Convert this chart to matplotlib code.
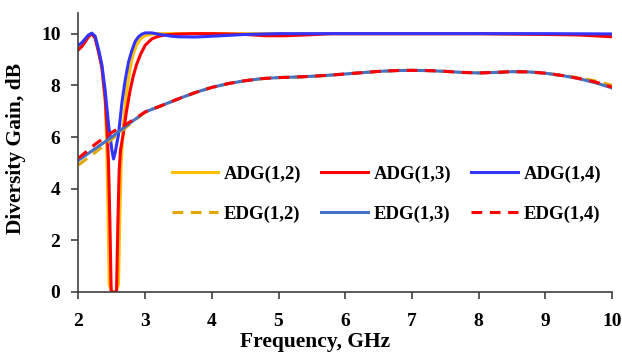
import matplotlib
matplotlib.use("Agg")
import matplotlib.pyplot as plt

# ---- data -------------------------------------------------------------
# Apparent diversity gain (ADG), one frequency grid per series (GHz)
adg12_freq = [2.0, 2.1, 2.2, 2.25, 2.3, 2.35, 2.4, 2.42, 2.44, 2.46, 2.5, 2.56,
              2.6, 2.62, 2.64, 2.67, 2.72, 2.77, 2.82, 2.87, 2.93, 3.0, 3.1,
              3.2, 3.4, 4.0, 5.0, 6.0, 7.0, 8.0, 9.0, 10.0]
adg12_vals = [9.5, 9.75, 10.0, 9.85, 9.3, 8.7, 7.4, 6.0, 3.5, 0.3, 0.0, 0.0,
              0.3, 3.0, 5.0, 6.4, 7.76, 8.6, 9.2, 9.55, 9.8, 9.92, 9.98,
              10.0, 10.0, 10.0, 10.0, 10.0, 10.0, 10.0, 9.98, 9.95]

adg13_freq = [2.0, 2.05, 2.1, 2.15, 2.2, 2.25, 2.3, 2.35, 2.4, 2.43, 2.45, 2.47,
              2.49, 2.57, 2.59, 2.61, 2.63, 2.67, 2.72, 2.77, 2.82, 2.87, 2.93,
              3.0, 3.1, 3.2, 3.3, 3.45, 3.7, 4.0, 4.5, 4.8, 5.1, 5.4, 5.8, 6.5,
              7.0, 8.0, 9.0, 9.5, 10.0]
adg13_vals = [9.38, 9.5, 9.68, 9.88, 10.0, 9.82, 9.3, 8.7, 7.5, 6.2, 5.0, 2.8,
              0.0, 0.0, 2.6, 4.7, 5.5, 6.1, 7.0, 7.75, 8.35, 8.8, 9.2,
              9.55, 9.8, 9.9, 9.95, 9.98, 10.0, 10.0, 9.97, 9.92, 9.92, 9.95, 10.0, 10.0,
              10.0, 10.0, 9.97, 9.95, 9.88]

adg14_freq = [2.0, 2.05, 2.1, 2.15, 2.2, 2.25, 2.3, 2.35, 2.4, 2.45, 2.5, 2.525,
              2.55, 2.6, 2.65, 2.7, 2.75, 2.8, 2.85, 2.9, 2.95, 3.0, 3.1, 3.2,
              3.3, 3.4, 3.5, 3.75, 4.0, 4.5, 5.0, 6.0, 7.0, 8.0, 9.0, 10.0]
adg14_vals = [9.55, 9.65, 9.8, 9.95, 10.02, 9.9, 9.4, 8.8, 7.8, 6.5, 5.5, 5.15,
              5.4, 6.1, 7.3, 8.2, 8.9, 9.35, 9.7, 9.88, 9.98, 10.03, 10.03, 9.98,
              9.94, 9.9, 9.88, 9.87, 9.9, 9.97, 10.0, 10.0, 10.0, 10.0, 10.0, 9.99]

# Envelope diversity gain (EDG), common frequency grid (GHz)
edg_freq = [2.0, 2.25, 2.5, 2.75, 3.0, 3.25, 3.5, 3.75, 4.0, 4.25, 4.5, 4.75,
            5.0, 5.25, 5.5, 5.75, 6.0, 6.25, 6.5, 6.75, 7.0, 7.25, 7.5, 7.75,
            8.0, 8.25, 8.5, 8.75, 9.0, 9.25, 9.5, 9.75, 10.0]
edg12_vals = [4.92, 5.4, 5.92, 6.45, 6.97, 7.22, 7.48, 7.72, 7.92, 8.07, 8.18, 8.26,
              8.3, 8.32, 8.35, 8.39, 8.44, 8.49, 8.54, 8.57, 8.58, 8.57, 8.54, 8.5,
              8.48, 8.5, 8.53, 8.52, 8.47, 8.39, 8.29, 8.17, 8.0]
edg13_vals = [5.1, 5.55, 6.0, 6.5, 6.97, 7.22, 7.48, 7.72, 7.92, 8.07, 8.18, 8.26,
              8.3, 8.32, 8.35, 8.39, 8.44, 8.49, 8.54, 8.57, 8.58, 8.57, 8.54, 8.5,
              8.48, 8.5, 8.53, 8.52, 8.47, 8.38, 8.26, 8.1, 7.9]
edg14_vals = [5.18, 5.72, 6.18, 6.55, 6.97, 7.22, 7.48, 7.72, 7.92, 8.07, 8.18, 8.26,
              8.3, 8.32, 8.35, 8.39, 8.44, 8.49, 8.54, 8.57, 8.58, 8.57, 8.54, 8.5,
              8.48, 8.5, 8.53, 8.52, 8.47, 8.38, 8.27, 8.13, 7.93]

x_ticks = [2, 3, 4, 5, 6, 7, 8, 9, 10]
y_ticks = [0, 2, 4, 6, 8, 10]

# ---- figure -----------------------------------------------------------
plt.rcParams['font.family'] = ['Liberation Serif', 'DejaVu Serif']
plt.rcParams['font.weight'] = 'bold'

fig = plt.figure(figsize=(6.22, 3.59), dpi=100)
ax = fig.add_axes([78.5 / 622, 1 - 292 / 359, 533.5 / 622, 279 / 359])

lw = 2.2
dash = (0, (3.5, 2.5))
l_a12, = ax.plot(adg12_freq, adg12_vals, color='#FFC000', lw=lw, label='ADG(1,2)')
l_a13, = ax.plot(adg13_freq, adg13_vals, color='#FF0000', lw=lw, label='ADG(1,3)')
l_a14, = ax.plot(adg14_freq, adg14_vals, color='#3333FF', lw=lw, label='ADG(1,4)')
l_e12, = ax.plot(edg_freq, edg12_vals, color='#E0A800', lw=lw, ls=dash, label='EDG(1,2)')
l_e13, = ax.plot(edg_freq, edg13_vals, color='#4472C4', lw=lw, label='EDG(1,3)')
l_e14, = ax.plot(edg_freq, edg14_vals, color='#FF0000', lw=lw, ls=dash, label='EDG(1,4)')

ax.set_xlim(2, 10)
ax.set_ylim(0, 10.8)
ax.set_xticks(x_ticks)
ax.set_yticks(y_ticks)

for side in ('top', 'right'):
    ax.spines[side].set_visible(False)
for side in ('left', 'bottom'):
    ax.spines[side].set_color('#404040')
    ax.spines[side].set_linewidth(1.2)

ax.tick_params(axis='both', direction='out', length=5, width=1.2,
               color='#404040', labelsize=14)
ax.tick_params(axis='x', pad=10)
ax.tick_params(axis='y', pad=8)
for lab in ax.get_xticklabels() + ax.get_yticklabels():
    lab.set_fontweight('bold')

ax.set_xlabel('Frequency, GHz', fontsize=15.5, fontweight='bold')
ax.set_ylabel('Diversity Gain, dB', fontsize=15.5, fontweight='bold')
ax.xaxis.set_label_coords(0.443, -0.145)
ax.yaxis.set_label_coords(-0.098, 0.515)

handles = [l_a12, l_e12, l_a13, l_e13, l_a14, l_e14]
leg = ax.legend(handles=handles, labels=[h.get_label() for h in handles],
                ncol=3, frameon=False, loc='center',
                bbox_to_anchor=(0.577, 0.35),
                prop={'family': 'Liberation Serif', 'weight': 'bold', 'size': 13.5},
                handlelength=2.5, handletextpad=0.3, columnspacing=1.05,
                labelspacing=1.2)

fig.savefig('out.png', dpi=100)
